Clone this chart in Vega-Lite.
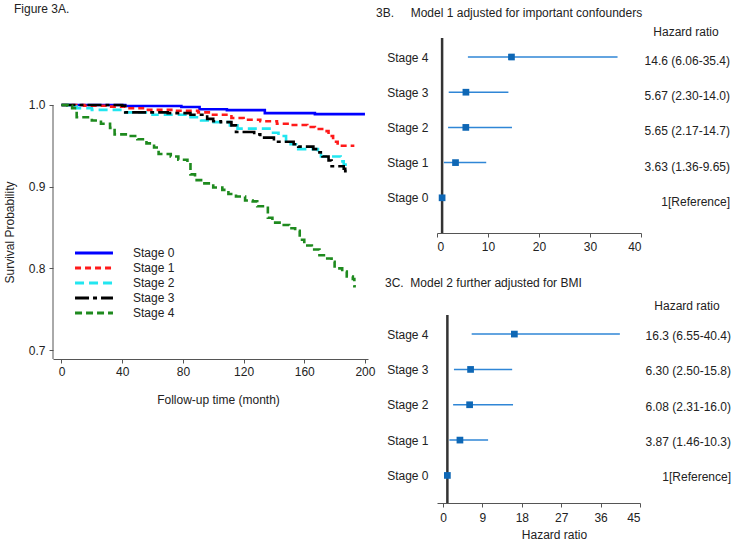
{
  "$schema": "https://vega.github.io/schema/vega-lite/v6.json",
  "padding": {"left": 3, "top": 3, "right": 2, "bottom": 2},
  "background": "white",
  "config": {
    "font": "Liberation Sans",
    "view": {"stroke": null},
    "axis": {"labelFontSize": 12, "titleFontSize": 12, "titleFontWeight": "normal", "labelColor": "#222", "titleColor": "#222", "domainColor": "#555", "tickColor": "#555", "grid": false, "tickSize": 4},
    "title": {"fontSize": 12, "fontWeight": "normal", "color": "#222"},
    "legend": {"labelFontSize": 12, "labelColor": "#222"}
  },
  "datasets": {
    "km": [
      {"stage": "Stage 0", "t": 0, "s": 1.0}, {"stage": "Stage 0", "t": 42, "s": 0.9988}, {"stage": "Stage 0", "t": 79, "s": 0.9976}, {"stage": "Stage 0", "t": 91, "s": 0.9947}, {"stage": "Stage 0", "t": 109, "s": 0.9937}, {"stage": "Stage 0", "t": 134, "s": 0.990}, {"stage": "Stage 0", "t": 167, "s": 0.9888}, {"stage": "Stage 0", "t": 200, "s": 0.9888},
      {"stage": "Stage 1", "t": 0, "s": 1.0}, {"stage": "Stage 1", "t": 15, "s": 0.999}, {"stage": "Stage 1", "t": 30, "s": 0.998}, {"stage": "Stage 1", "t": 42, "s": 0.996}, {"stage": "Stage 1", "t": 55, "s": 0.994}, {"stage": "Stage 1", "t": 75, "s": 0.993}, {"stage": "Stage 1", "t": 90, "s": 0.991}, {"stage": "Stage 1", "t": 98, "s": 0.988}, {"stage": "Stage 1", "t": 112, "s": 0.984}, {"stage": "Stage 1", "t": 120, "s": 0.982}, {"stage": "Stage 1", "t": 131, "s": 0.980}, {"stage": "Stage 1", "t": 142, "s": 0.977}, {"stage": "Stage 1", "t": 149, "s": 0.9755}, {"stage": "Stage 1", "t": 162, "s": 0.973}, {"stage": "Stage 1", "t": 167, "s": 0.9706}, {"stage": "Stage 1", "t": 173, "s": 0.968}, {"stage": "Stage 1", "t": 176, "s": 0.962}, {"stage": "Stage 1", "t": 179, "s": 0.955}, {"stage": "Stage 1", "t": 182, "s": 0.950}, {"stage": "Stage 1", "t": 193, "s": 0.950},
      {"stage": "Stage 2", "t": 0, "s": 1.0}, {"stage": "Stage 2", "t": 5, "s": 0.998}, {"stage": "Stage 2", "t": 10, "s": 0.996}, {"stage": "Stage 2", "t": 20, "s": 0.994}, {"stage": "Stage 2", "t": 41, "s": 0.991}, {"stage": "Stage 2", "t": 60, "s": 0.988}, {"stage": "Stage 2", "t": 83, "s": 0.985}, {"stage": "Stage 2", "t": 92, "s": 0.981}, {"stage": "Stage 2", "t": 98, "s": 0.979}, {"stage": "Stage 2", "t": 111, "s": 0.975}, {"stage": "Stage 2", "t": 116, "s": 0.971}, {"stage": "Stage 2", "t": 138, "s": 0.966}, {"stage": "Stage 2", "t": 143, "s": 0.962}, {"stage": "Stage 2", "t": 148, "s": 0.957}, {"stage": "Stage 2", "t": 151, "s": 0.952}, {"stage": "Stage 2", "t": 156, "s": 0.946}, {"stage": "Stage 2", "t": 169, "s": 0.941}, {"stage": "Stage 2", "t": 171, "s": 0.937}, {"stage": "Stage 2", "t": 184, "s": 0.931}, {"stage": "Stage 2", "t": 186, "s": 0.927}, {"stage": "Stage 2", "t": 189, "s": 0.927},
      {"stage": "Stage 3", "t": 0, "s": 1.0}, {"stage": "Stage 3", "t": 40, "s": 0.999}, {"stage": "Stage 3", "t": 42, "s": 0.991}, {"stage": "Stage 3", "t": 70, "s": 0.990}, {"stage": "Stage 3", "t": 85, "s": 0.988}, {"stage": "Stage 3", "t": 96, "s": 0.983}, {"stage": "Stage 3", "t": 100, "s": 0.980}, {"stage": "Stage 3", "t": 105, "s": 0.979}, {"stage": "Stage 3", "t": 112, "s": 0.975}, {"stage": "Stage 3", "t": 115, "s": 0.967}, {"stage": "Stage 3", "t": 127, "s": 0.964}, {"stage": "Stage 3", "t": 131, "s": 0.960}, {"stage": "Stage 3", "t": 140, "s": 0.955}, {"stage": "Stage 3", "t": 153, "s": 0.952}, {"stage": "Stage 3", "t": 156, "s": 0.949}, {"stage": "Stage 3", "t": 166, "s": 0.946}, {"stage": "Stage 3", "t": 169, "s": 0.942}, {"stage": "Stage 3", "t": 172, "s": 0.937}, {"stage": "Stage 3", "t": 176, "s": 0.932}, {"stage": "Stage 3", "t": 178, "s": 0.925}, {"stage": "Stage 3", "t": 186, "s": 0.922}, {"stage": "Stage 3", "t": 187, "s": 0.919}, {"stage": "Stage 3", "t": 188, "s": 0.919},
      {"stage": "Stage 4", "t": 0, "s": 1.0}, {"stage": "Stage 4", "t": 4, "s": 0.999}, {"stage": "Stage 4", "t": 7, "s": 0.996}, {"stage": "Stage 4", "t": 10, "s": 0.985}, {"stage": "Stage 4", "t": 20, "s": 0.981}, {"stage": "Stage 4", "t": 26, "s": 0.977}, {"stage": "Stage 4", "t": 32, "s": 0.972}, {"stage": "Stage 4", "t": 35, "s": 0.964}, {"stage": "Stage 4", "t": 44, "s": 0.962}, {"stage": "Stage 4", "t": 50, "s": 0.958}, {"stage": "Stage 4", "t": 56, "s": 0.953}, {"stage": "Stage 4", "t": 61, "s": 0.948}, {"stage": "Stage 4", "t": 64, "s": 0.940}, {"stage": "Stage 4", "t": 72, "s": 0.937}, {"stage": "Stage 4", "t": 77, "s": 0.933}, {"stage": "Stage 4", "t": 83, "s": 0.929}, {"stage": "Stage 4", "t": 85, "s": 0.915}, {"stage": "Stage 4", "t": 88, "s": 0.908}, {"stage": "Stage 4", "t": 92, "s": 0.904}, {"stage": "Stage 4", "t": 100, "s": 0.899}, {"stage": "Stage 4", "t": 106, "s": 0.896}, {"stage": "Stage 4", "t": 110, "s": 0.891}, {"stage": "Stage 4", "t": 115, "s": 0.888}, {"stage": "Stage 4", "t": 121, "s": 0.883}, {"stage": "Stage 4", "t": 126, "s": 0.882}, {"stage": "Stage 4", "t": 129, "s": 0.876}, {"stage": "Stage 4", "t": 134, "s": 0.874}, {"stage": "Stage 4", "t": 136, "s": 0.862}, {"stage": "Stage 4", "t": 139, "s": 0.856}, {"stage": "Stage 4", "t": 145, "s": 0.853}, {"stage": "Stage 4", "t": 150, "s": 0.849}, {"stage": "Stage 4", "t": 154, "s": 0.846}, {"stage": "Stage 4", "t": 157, "s": 0.835}, {"stage": "Stage 4", "t": 160, "s": 0.828}, {"stage": "Stage 4", "t": 165, "s": 0.823}, {"stage": "Stage 4", "t": 170, "s": 0.816}, {"stage": "Stage 4", "t": 174, "s": 0.812}, {"stage": "Stage 4", "t": 178, "s": 0.808}, {"stage": "Stage 4", "t": 180, "s": 0.800}, {"stage": "Stage 4", "t": 185, "s": 0.796}, {"stage": "Stage 4", "t": 188, "s": 0.790}, {"stage": "Stage 4", "t": 192, "s": 0.787}, {"stage": "Stage 4", "t": 193, "s": 0.778}, {"stage": "Stage 4", "t": 194, "s": 0.778}
    ],
    "hr": [
      {"model": "B", "idx": 4, "hr": 14.6, "lo": 6.06, "hi": 35.4, "label": "14.6 (6.06-35.4)"},
      {"model": "B", "idx": 3, "hr": 5.67, "lo": 2.30, "hi": 14.0, "label": "5.67 (2.30-14.0)"},
      {"model": "B", "idx": 2, "hr": 5.65, "lo": 2.17, "hi": 14.7, "label": "5.65 (2.17-14.7)"},
      {"model": "B", "idx": 1, "hr": 3.63, "lo": 1.36, "hi": 9.65, "label": "3.63 (1.36-9.65)"},
      {"model": "B", "idx": 0, "hr": 1, "lo": 1, "hi": 1, "label": "1[Reference]"},
      {"model": "C", "idx": 4, "hr": 16.3, "lo": 6.55, "hi": 40.4, "label": "16.3 (6.55-40.4)"},
      {"model": "C", "idx": 3, "hr": 6.30, "lo": 2.50, "hi": 15.8, "label": "6.30 (2.50-15.8)"},
      {"model": "C", "idx": 2, "hr": 6.08, "lo": 2.31, "hi": 16.0, "label": "6.08 (2.31-16.0)"},
      {"model": "C", "idx": 1, "hr": 3.87, "lo": 1.46, "hi": 10.3, "label": "3.87 (1.46-10.3)"},
      {"model": "C", "idx": 0, "hr": 1, "lo": 1, "hi": 1, "label": "1[Reference]"}
    ],
    "hdr": [{"h": "Hazard ratio"}]
  },
  "spacing": 1,
  "hconcat": [
    {
      "width": 315,
      "height": 321,
      "title": {"text": "Figure 3A.", "anchor": "start", "frame": "group", "dx": -39, "offset": 22},
      "layer": [
        {
          "data": {"values": [{}]},
          "mark": {"type": "rule", "color": "#555555", "strokeWidth": 1},
          "encoding": {
            "x": {"datum": -5.6, "type": "quantitative"},
            "y": {"datum": 0.689, "type": "quantitative"},
            "y2": {"datum": 1.0}
          }
        },
        {
          "data": {"name": "km"},
          "mark": {"type": "line", "interpolate": "step-after", "strokeWidth": 2.6, "clip": false},
          "encoding": {
            "x": {"field": "t", "type": "quantitative", "scale": {"domain": [-5.6, 202], "nice": false, "zero": false},
                  "axis": {"values": [0, 40, 80, 120, 160, 200], "title": "Follow-up time (month)", "labelPadding": 3, "titlePadding": 17, "titleX": 165}},
            "y": {"field": "s", "type": "quantitative", "scale": {"domain": [0.689, 1.082], "nice": false, "zero": false},
                  "axis": {"values": [0.7, 0.8, 0.9, 1.0], "format": ".1f", "title": "Survival Probability", "domain": false, "labelPadding": 4, "titlePadding": 12, "titleY": 194}},
            "color": {"field": "stage", "type": "nominal",
                      "scale": {"domain": ["Stage 0", "Stage 1", "Stage 2", "Stage 3", "Stage 4"], "range": ["#0000ff", "#ff1a1a", "#22e6f0", "#000000", "#1e8a1e"]},
                      "legend": {"orient": "none", "legendX": 32, "legendY": 206, "title": null, "symbolType": "M-2.53,0H2.53", "symbolSize": 225, "symbolStrokeWidth": 3, "labelOffset": 30, "rowPadding": -0.1, "labelFontSize": 12}},
            "strokeDash": {"field": "stage", "type": "nominal",
                      "scale": {"domain": ["Stage 0", "Stage 1", "Stage 2", "Stage 3", "Stage 4"], "range": [[1, 0], [6, 4], [9, 5], [14, 4, 4, 4], [7, 4]]},
                      "legend": {"orient": "none", "legendX": 32, "legendY": 206, "title": null, "symbolType": "M-2.53,0H2.53", "symbolSize": 225, "symbolStrokeWidth": 3, "labelOffset": 30, "rowPadding": -0.1, "labelFontSize": 12}}
          }
        }
      ]
    },
    {
      "spacing": 25,
      "vconcat": [
        {
          "width": 204,
          "height": 195,
          "title": {"text": "3B.\u00a0\u00a0\u00a0\u00a0\u00a0Model 1 adjusted for important confounders", "anchor": "start", "frame": "group", "dx": -61, "offset": 6},
          "layer": [
            {
              "data": {"name": "hr"},
              "transform": [{"filter": "datum.model == 'B' && datum.idx == 0"}],
              "mark": {"type": "rule", "color": "#333333", "strokeWidth": 2.5},
              "encoding": {"x": {"datum": 1, "type": "quantitative", "scale": {"domain": [0, 40], "nice": false, "zero": false},
                                 "axis": {"values": [0, 10, 20, 30, 40], "title": null, "labelPadding": 4}}}
            },
            {
              "data": {"name": "hr"},
              "transform": [{"filter": "datum.model == 'B'"}],
              "mark": {"type": "rule", "color": "#2f86d6", "strokeWidth": 1.5},
              "encoding": {
                "x": {"field": "lo", "type": "quantitative"},
                "x2": {"field": "hi"},
                "y": {"field": "idx", "type": "quantitative", "scale": {"domain": [-1, 4.54], "nice": false, "zero": false},
                      "axis": {"values": [0, 1, 2, 3, 4], "labelExpr": "'Stage ' + datum.value", "domain": false, "ticks": false, "labelPadding": 9, "title": null, "labelColor": "#222"}}
              }
            },
            {
              "data": {"name": "hr"},
              "transform": [{"filter": "datum.model == 'B'"}],
              "mark": {"type": "point", "shape": "square", "filled": true, "color": "#0e67b5", "size": 45, "opacity": 1},
              "encoding": {"x": {"field": "hr", "type": "quantitative"}, "y": {"field": "idx", "type": "quantitative"}}
            },
            {
              "data": {"name": "hr"},
              "transform": [{"filter": "datum.model == 'B'"}],
              "mark": {"type": "text", "align": "right", "baseline": "middle", "dx": 89, "dy": 4, "fontSize": 12, "color": "#222"},
              "encoding": {"x": {"value": "width"}, "y": {"field": "idx", "type": "quantitative"}, "text": {"field": "label"}}
            },
            {
              "data": {"name": "hdr"},
              "mark": {"type": "text", "align": "center", "baseline": "middle", "dx": 45, "dy": -6, "fontSize": 12, "color": "#222"},
              "encoding": {"x": {"value": "width"}, "y": {"value": 0}, "text": {"field": "h"}}
            }
          ]
        },
        {
          "width": 203,
          "height": 188,
          "title": {"text": "3C.\u00a0\u00a0Model 2 further adjusted for BMI", "anchor": "start", "frame": "group", "dx": -52, "offset": 10},
          "layer": [
            {
              "data": {"name": "hr"},
              "transform": [{"filter": "datum.model == 'C' && datum.idx == 0"}],
              "mark": {"type": "rule", "color": "#333333", "strokeWidth": 2.5},
              "encoding": {"x": {"datum": 1, "type": "quantitative", "scale": {"domain": [-1.37, 45], "nice": false, "zero": false},
                                 "axis": {"values": [0, 9, 18, 27, 36, 45], "title": "Hazard ratio", "labelPadding": 5, "titlePadding": 6, "titleX": 117}}}
            },
            {
              "data": {"name": "hr"},
              "transform": [{"filter": "datum.model == 'C'"}],
              "mark": {"type": "rule", "color": "#2f86d6", "strokeWidth": 1.5},
              "encoding": {
                "x": {"field": "lo", "type": "quantitative"},
                "x2": {"field": "hi"},
                "y": {"field": "idx", "type": "quantitative", "scale": {"domain": [-0.78, 4.54], "nice": false, "zero": false},
                      "axis": {"values": [0, 1, 2, 3, 4], "labelExpr": "'Stage ' + datum.value", "domain": false, "ticks": false, "labelPadding": 9, "title": null, "labelColor": "#222"}}
              }
            },
            {
              "data": {"name": "hr"},
              "transform": [{"filter": "datum.model == 'C'"}],
              "mark": {"type": "point", "shape": "square", "filled": true, "color": "#0e67b5", "size": 45, "opacity": 1},
              "encoding": {"x": {"field": "hr", "type": "quantitative"}, "y": {"field": "idx", "type": "quantitative"}}
            },
            {
              "data": {"name": "hr"},
              "transform": [{"filter": "datum.model == 'C'"}],
              "mark": {"type": "text", "align": "right", "baseline": "middle", "dx": 91, "dy": 2, "fontSize": 12, "color": "#222"},
              "encoding": {"x": {"value": "width"}, "y": {"field": "idx", "type": "quantitative"}, "text": {"field": "label"}}
            },
            {
              "data": {"name": "hdr"},
              "mark": {"type": "text", "align": "center", "baseline": "middle", "dx": 47, "dy": -9, "fontSize": 12, "color": "#222"},
              "encoding": {"x": {"value": "width"}, "y": {"value": 0}, "text": {"field": "h"}}
            }
          ]
        }
      ]
    }
  ]
}
